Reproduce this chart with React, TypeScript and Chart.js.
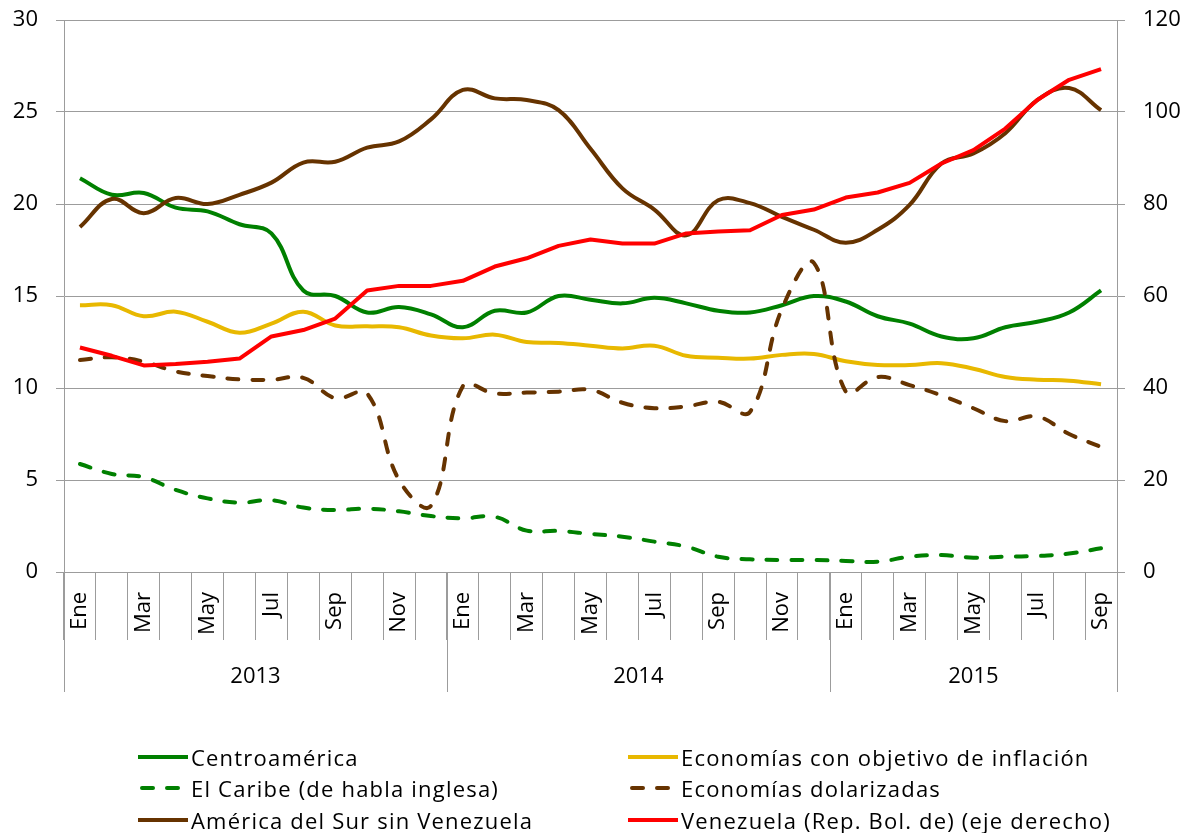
import React, { useEffect, useRef } from 'react';
import { Chart, registerables } from 'chart.js';

Chart.register(...registerables);

const FONT = '"Open Sans", "Liberation Sans", sans-serif';
const GRID = '#9c9c9c';

const monthLabels = [
  'Ene', 'Feb', 'Mar', 'Abr', 'May', 'Jun', 'Jul', 'Ago', 'Sep', 'Oct', 'Nov', 'Dic',
  'Ene', 'Feb', 'Mar', 'Abr', 'May', 'Jun', 'Jul', 'Ago', 'Sep', 'Oct', 'Nov', 'Dic',
  'Ene', 'Feb', 'Mar', 'Abr', 'May', 'Jun', 'Jul', 'Ago', 'Sep',
];
const yearLabels = ['2013', '2014', '2015'];
const yearMonthCounts = [12, 12, 9];

const leftTicks = { min: 0, max: 30, step: 5 };
const rightTicks = { min: 0, max: 120, step: 20 };

const seriesNames = [
  'Centroamérica',
  'Economías con objetivo de inflación',
  'El Caribe (de habla inglesa)',
  'Economías dolarizadas',
  'América del Sur sin Venezuela',
  'Venezuela (Rep. Bol. de) (eje derecho)',
];

const centroamerica = [
  21.4, 20.5, 20.6, 19.8, 19.6, 18.9, 18.4, 15.3, 15.0, 14.1, 14.4, 14.0,
  13.3, 14.2, 14.1, 15.0, 14.8, 14.6, 14.9, 14.6, 14.2, 14.1, 14.5, 15.0,
  14.7, 13.9, 13.5, 12.8, 12.7, 13.3, 13.6, 14.1, 15.3,
];
const metasInflacion = [
  14.5, 14.5, 13.9, 14.15, 13.6, 13.0, 13.5, 14.15, 13.4, 13.35, 13.3, 12.85,
  12.7, 12.9, 12.5, 12.45, 12.3, 12.15, 12.3, 11.75, 11.65, 11.6, 11.8, 11.85,
  11.45, 11.25, 11.25, 11.35, 11.05, 10.6, 10.45, 10.4, 10.2,
];
const caribe = [
  5.87, 5.33, 5.15, 4.46, 4.0, 3.77, 3.9, 3.5, 3.37, 3.44, 3.3, 3.04,
  2.92, 3.0, 2.25, 2.23, 2.07, 1.92, 1.65, 1.38, 0.83, 0.69, 0.65, 0.65,
  0.6, 0.56, 0.83, 0.92, 0.78, 0.83, 0.87, 1.0, 1.29,
];
const dolarizadas = [
  11.52, 11.67, 11.43, 10.9, 10.65, 10.47, 10.45, 10.55, 9.45, 9.7, 5.0, 3.6,
  10.1, 9.7, 9.75, 9.8, 9.9, 9.2, 8.9, 9.0, 9.25, 8.7, 14.3, 16.8,
  9.8, 10.6, 10.16, 9.6, 8.9, 8.2, 8.45, 7.5, 6.8,
];
const americaSur = [
  18.75, 20.27, 19.5, 20.33, 20.0, 20.5, 21.16, 22.25, 22.3, 23.06, 23.4, 24.6,
  26.2, 25.74, 25.65, 25.1, 23.0, 20.85, 19.7, 18.3, 20.2, 20.05, 19.3, 18.6,
  17.9, 18.6, 19.95, 22.2, 22.75, 23.85, 25.65, 26.3, 25.1,
];
const venezuela = [
  48.8, 47.0, 44.9, 45.2, 45.7, 46.4, 51.2, 52.6, 55.1, 61.2, 62.2, 62.2,
  63.3, 66.4, 68.2, 70.9, 72.3, 71.4, 71.4, 73.6, 74.0, 74.3, 77.6, 78.8,
  81.4, 82.5, 84.6, 88.8, 91.7, 96.4, 102.6, 107.0, 109.3,
];

const seriesValues = [centroamerica, metasInflacion, caribe, dolarizadas, americaSur, venezuela];

const GREEN = '#008000';
const YELLOW = '#E8B800';
const BROWN = '#663300';
const RED = '#FF0000';

const seriesStyles = [
  { color: GREEN, dash: [] as number[], axis: 'y', tension: 0.4, order: 3 },
  { color: YELLOW, dash: [] as number[], axis: 'y', tension: 0.4, order: 4 },
  { color: GREEN, dash: [11, 14], axis: 'y', tension: 0.4, order: 5 },
  { color: BROWN, dash: [11, 14], axis: 'y', tension: 0.4, order: 2 },
  { color: BROWN, dash: [] as number[], axis: 'y', tension: 0.4, order: 1 },
  { color: RED, dash: [] as number[], axis: 'y2', tension: 0, order: 0 },
];

const yearGroupPlugin = {
  id: 'yearGroups',
  afterDraw(chart: any) {
    const xs = chart.scales.x;
    const ctx = chart.ctx as CanvasRenderingContext2D;
    const bottom = chart.chartArea.bottom;
    const step = xs.getPixelForValue(1) - xs.getPixelForValue(0);
    ctx.save();
    ctx.strokeStyle = GRID;
    ctx.lineWidth = 1;
    ctx.fillStyle = '#000';
    ctx.font = `22px ${FONT}`;
    ctx.textAlign = 'center';
    ctx.textBaseline = 'middle';
    let start = 0;
    yearLabels.forEach((label, k) => {
      const end = start + yearMonthCounts[k] - 1;
      const x0 = xs.getPixelForValue(start) - step / 2;
      const x1 = xs.getPixelForValue(end) + step / 2;
      [x0, x1].forEach((x) => {
        const px = Math.round(x) + 0.5;
        ctx.beginPath();
        ctx.moveTo(px, bottom);
        ctx.lineTo(px, bottom + 120);
        ctx.stroke();
      });
      ctx.fillText(label, (x0 + x1) / 2, bottom + 105);
      start = end + 1;
    });
    ctx.restore();
  },
};

export default function App() {
  const canvasRef = useRef<HTMLCanvasElement | null>(null);

  useEffect(() => {
    const canvas = canvasRef.current;
    if (!canvas) return;
    const tickFont = { family: FONT, size: 22 };
    const chart = new Chart(canvas, {
      type: 'line',
      data: {
        labels: monthLabels,
        datasets: seriesNames.map((name, i) => ({
          label: name,
          data: seriesValues[i],
          yAxisID: seriesStyles[i].axis,
          borderColor: seriesStyles[i].color,
          backgroundColor: seriesStyles[i].color,
          borderWidth: 4,
          borderDash: seriesStyles[i].dash,
          borderCapStyle: seriesStyles[i].dash.length ? 'round' : 'butt',
          borderJoinStyle: 'round',
          tension: seriesStyles[i].tension,
          pointRadius: 0,
          pointHoverRadius: 0,
          fill: false,
          order: seriesStyles[i].order,
        })),
      },
      options: {
        responsive: false,
        animation: false,
        events: [],
        layout: { padding: { top: 20, left: 0, right: 0, bottom: 0 } },
        plugins: {
          legend: { display: false },
          tooltip: { enabled: false },
        },
        scales: {
          x: {
            type: 'category',
            offset: true,
            grid: {
              offset: true,
              drawOnChartArea: false,
              drawTicks: true,
              tickLength: 68,
              color: GRID,
              lineWidth: 1,
            },
            border: { display: true, color: GRID },
            ticks: {
              autoSkip: false,
              maxRotation: 90,
              minRotation: 90,
              padding: -48,
              color: '#000',
              font: tickFont,
              callback: (_v: any, i: number) => (i % 2 === 0 ? monthLabels[i] : ''),
            },
            afterFit: (s: any) => {
              s.height = 261;
              s.paddingLeft = 0;
              s.paddingRight = 0;
            },
          },
          y: {
            position: 'left',
            min: leftTicks.min,
            max: leftTicks.max,
            ticks: { stepSize: leftTicks.step, padding: 18, color: '#000', font: tickFont },
            grid: { color: GRID, tickLength: 8, lineWidth: 1 },
            border: { display: true, color: GRID },
            afterFit: (s: any) => {
              s.width = 64;
              s.paddingTop = 0;
              s.paddingBottom = 0;
            },
          },
          y2: {
            position: 'right',
            min: rightTicks.min,
            max: rightTicks.max,
            ticks: { stepSize: rightTicks.step, padding: 18, color: '#000', font: tickFont },
            grid: { drawOnChartArea: false, color: GRID, tickLength: 8, lineWidth: 1 },
            border: { display: true, color: GRID },
            afterFit: (s: any) => {
              s.width = 72;
              s.paddingTop = 0;
              s.paddingBottom = 0;
            },
          },
        },
      } as any,
      plugins: [yearGroupPlugin],
    });
    return () => chart.destroy();
  }, []);

  return (
    <div
      style={{
        position: 'fixed',
        left: 0,
        top: 0,
        width: 1189,
        height: 833,
        background: '#fff',
        fontFamily: FONT,
      }}
    >
      <canvas
        ref={canvasRef}
        width={1189}
        height={833}
        style={{ position: 'absolute', left: 0, top: 0, width: 1189, height: 833 }}
      />
      <div
        style={{
          position: 'absolute',
          left: 138,
          top: 741,
          display: 'grid',
          gridTemplateColumns: '490px 520px',
          gridAutoRows: '31.5px',
          fontSize: 22,
          letterSpacing: '1.2px',
          color: '#000',
        }}
      >
        {seriesNames.map((name, i) => (
          <div key={name} style={{ display: 'flex', alignItems: 'center', whiteSpace: 'nowrap' }}>
            <svg width={50} height={8} style={{ flex: 'none' }}>
              <line
                x1={seriesStyles[i].dash.length ? 4 : 0}
                y1={4}
                x2={seriesStyles[i].dash.length ? 46 : 50}
                y2={4}
                stroke={seriesStyles[i].color}
                strokeWidth={4}
                strokeLinecap={seriesStyles[i].dash.length ? 'round' : 'butt'}
                strokeDasharray={seriesStyles[i].dash.length ? '11 14' : undefined}
              />
            </svg>
            <span style={{ marginLeft: 3 }}>{name}</span>
          </div>
        ))}
      </div>
    </div>
  );
}
